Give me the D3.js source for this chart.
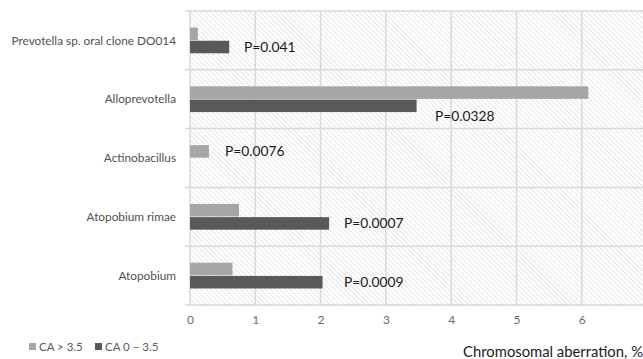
<!DOCTYPE html>
<html>
<head>
<meta charset="utf-8">
<script src="https://cdn.jsdelivr.net/npm/d3@7"></script>
<style>
  body { margin: 0; background: #fff; }
  svg { display: block; font-family: Lato, "Open Sans", sans-serif; }
</style>
</head>
<body>
<svg id="chart" width="643" height="359"></svg>
<script>
// categories top to bottom, as in the picture
var categories = ["Prevotella sp. oral clone DO014", "Alloprevotella", "Actinobacillus", "Atopobium rimae", "Atopobium"];
var seriesNames = ["CA > 3.5", "CA 0 \u2013 3.5"];
var caHigh = [0.12, 6.1, 0.29, 0.75, 0.65];
var caLow = [0.6, 3.47, 0, 2.13, 2.03];
var pLabels = ["P=0.041", "P=0.0328", "P=0.0076", "P=0.0007", "P=0.0009"];
var xTicks = [0, 1, 2, 3, 4, 5, 6, 7];

var colors = ["#a6a6a6", "#595959"];

var svg = d3.select("#chart");
// note: "top" is window.top, so use other names
var plotLeft = 190, plotTop = 11, plotBottom = 305;
var x = d3.scaleLinear().domain([0, 7]).range([plotLeft, plotLeft + 7 * 65.3]);
var y = d3.scaleBand().domain(categories).range([plotTop, plotBottom]);
var inner = d3.scaleBand().domain(seriesNames).range([0, y.bandwidth()]).paddingOuter(1.25).paddingInner(0.05);

// hatch fill
var defs = svg.append("defs");
var pat = defs.append("pattern")
  .attr("id", "hatch")
  .attr("patternUnits", "userSpaceOnUse")
  .attr("width", 3.5).attr("height", 3.5)
  .attr("patternTransform", "rotate(-45)");
pat.append("rect").attr("width", 3.5).attr("height", 3.5).attr("fill", "#fff");
pat.append("line").attr("x1", 0).attr("y1", 0).attr("x2", 0).attr("y2", 3.5)
  .attr("stroke", "#d6d6d6").attr("stroke-width", 1.2);

svg.append("rect")
  .attr("x", plotLeft).attr("y", plotTop)
  .attr("width", 643 - plotLeft).attr("height", plotBottom - plotTop)
  .attr("fill", "url(#hatch)");

// vertical grid
svg.append("g").selectAll("line").data(xTicks).join("line")
  .attr("x1", d => x(d)).attr("x2", d => x(d))
  .attr("y1", plotTop).attr("y2", plotBottom)
  .attr("stroke", "#d9d9d9").attr("stroke-width", 1.5);

// horizontal separators between categories
var seps = categories.map(c => y(c)).concat([plotBottom]);
svg.append("g").selectAll("line").data(seps).join("line")
  .attr("x1", plotLeft - 5).attr("x2", 643)
  .attr("y1", d => d).attr("y2", d => d)
  .attr("stroke", "#d9d9d9").attr("stroke-width", 1.5);

// bars
var rows = categories.map((c, i) => ({cat: c, vals: [caHigh[i], caLow[i]]}));
var g = svg.append("g").selectAll("g").data(rows).join("g")
  .attr("transform", d => "translate(0," + y(d.cat) + ")");
g.selectAll("rect").data(d => d.vals.map((v, j) => ({v: v, s: seriesNames[j], j: j}))).join("rect")
  .attr("x", x(0))
  .attr("y", d => inner(d.s))
  .attr("width", d => x(d.v) - x(0))
  .attr("height", inner.bandwidth())
  .attr("fill", d => colors[d.j]);

// P labels
var pPos = [
  {dx: 244, s: 1}, {dx: 435, s: 1, off: 10}, {dx: 225, s: 0}, {dx: 344, s: 1}, {dx: 344, s: 1}
];
svg.append("g").selectAll("text").data(pLabels).join("text")
  .attr("x", (d, i) => pPos[i].dx)
  .attr("y", (d, i) => y(categories[i]) + inner(seriesNames[pPos[i].s]) + inner.bandwidth() / 2 + (pPos[i].off || 0))
  .attr("dy", "0.35em")
  .attr("font-size", 13.8)
  .attr("fill", "#1a1a1a")
  .text(d => d);

// category labels
svg.append("g").selectAll("text").data(categories).join("text")
  .attr("x", 176)
  .attr("y", d => y(d) + y.bandwidth() / 2)
  .attr("dy", "0.35em")
  .attr("text-anchor", "end")
  .attr("font-size", 11.8)
  .attr("fill", "#505050")
  .text(d => d);

// x axis tick labels
var xAxis = d3.axisBottom(x).tickValues(xTicks).tickSize(0).tickPadding(10).tickFormat(d3.format("d"));
var ax = svg.append("g").attr("transform", "translate(0," + plotBottom + ")").call(xAxis);
ax.select(".domain").remove();
ax.selectAll("text").attr("font-size", 12).attr("fill", "#6a6a6a").attr("font-family", "Lato, sans-serif");

// axis title
svg.append("text")
  .attr("x", 643).attr("y", 352)
  .attr("dy", "0.35em")
  .attr("text-anchor", "end")
  .attr("font-size", 14.8)
  .attr("fill", "#1a1a1a")
  .text("Chromosomal aberration, %");

// legend
var legX = [29, 95];
var leg = svg.append("g").selectAll("g").data(seriesNames).join("g")
  .attr("transform", (d, i) => "translate(" + legX[i] + ",343)");
leg.append("rect").attr("width", 7).attr("height", 7).attr("fill", (d, i) => colors[i]);
leg.append("text").attr("x", 10).attr("y", 3.5).attr("dy", "0.35em")
  .attr("font-size", 11.5).attr("fill", "#595959").text(d => d);
</script>
</body>
</html>
